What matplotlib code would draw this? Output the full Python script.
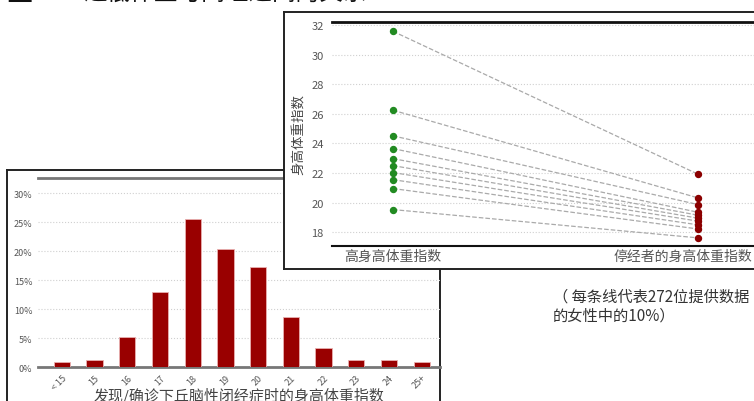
import matplotlib
matplotlib.use("Agg")
import matplotlib.pyplot as plt
import matplotlib.transforms as mtransforms
from matplotlib.ticker import PercentFormatter

plt.rcParams['font.family'] = ['Noto Sans CJK SC', 'DejaVu Sans']

# histogram: BMI at diagnosis
bmi_labels = ['< 15', '15', '16', '17', '18', '19', '20', '21', '22', '23', '24', '25+']
bmi_share = [0.8, 1.15, 5.1, 13.0, 25.6, 20.3, 17.3, 8.7, 3.2, 1.15, 1.15, 0.85]

# slope chart: high BMI vs BMI at amenorrhea (deciles)
slope_cats = ['高身高体重指数', '停经者的身高体重指数']
bmi_high = [31.57, 26.24, 24.51, 23.65, 22.97, 22.5, 22.03, 21.55, 20.95, 19.53]
bmi_stop = [21.92, 20.32, 19.87, 19.35, 19.15, 18.95, 18.75, 18.5, 18.22, 17.62]

W, H = 754, 402
fig = plt.figure(figsize=(W / 100, H / 100), dpi=100)


def box(l, t, r, b):
    # pixel box (from top-left) -> figure fraction rect
    return [l / W, 1 - b / H, (r - l) / W, (b - t) / H]


def panel(rect, z):
    p = fig.add_axes(rect, zorder=z)
    p.set_xticks([])
    p.set_yticks([])
    p.set_facecolor('white')
    for s in p.spines.values():
        s.set_linewidth(1.4)
        s.set_color('#222222')
    return p


# cut-off title at the very top
fig.text(6 / W, 1 - 8 / H, '三', fontsize=19, color='#111111', va='bottom', ha='left')
fig.text(83 / W, 1 - 6 / H, '过低体重与闭经之间的关系', fontsize=17, color='#111111',
         va='bottom', ha='left')

#region histogram panel
panel(box(7, 171, 440, 430), 0)
ax1 = fig.add_axes(box(38, 179, 440, 368), zorder=1)
ax1.set_facecolor('none')
xs = list(range(len(bmi_labels)))
ax1.bar(xs, [v / 100 for v in bmi_share], width=0.5, color='#990000',
        edgecolor='#e8b0b0', linewidth=0.6, zorder=3)
ax1.set_xlim(-0.73, 11.56)
ax1.set_ylim(0, 0.326)
ax1.set_yticks([0, 0.05, 0.10, 0.15, 0.20, 0.25, 0.30])
ax1.yaxis.set_major_formatter(PercentFormatter(1.0, decimals=0))
ax1.set_xticks(xs)
ax1.set_xticklabels(bmi_labels, rotation=45, ha='right', rotation_mode='anchor')
ax1.tick_params(length=0, labelsize=6.5, labelcolor='#555555', pad=4)
ax1.grid(axis='y', linestyle=':', color='#d0d0d0', linewidth=0.8, zorder=0)
for s in ['left', 'right']:
    ax1.spines[s].set_visible(False)
ax1.spines['top'].set_color('#777777')
ax1.spines['top'].set_linewidth(2)
ax1.spines['bottom'].set_color('#777777')
ax1.spines['bottom'].set_linewidth(2)
ax1.set_xlabel('发现/确诊下丘脑性闭经症时的身高体重指数', fontsize=10.8, color='#444444', labelpad=-3)
#endregion

#region slope panel
panel(box(284, 13, 780, 270), 2)
ax2 = fig.add_axes(box(332, 22.7, 759, 247), zorder=3)
ax2.set_facecolor('none')
for lo, hi in zip(bmi_high, bmi_stop):
    ax2.plot([0, 1], [lo, hi], linestyle='--', color='#aaaaaa', linewidth=0.9, zorder=2)
ax2.plot([0] * len(bmi_high), bmi_high, 'o', color='#228b22', markersize=4.3, zorder=4)
ax2.plot([1] * len(bmi_stop), bmi_stop, 'o', color='#8b0000', markersize=4.3, zorder=4)
ax2.set_xlim(-0.2, 1.2)
ax2.set_ylim(17.07, 32.22)
ax2.set_yticks(range(18, 33, 2))
ax2.set_xticks([0, 1])
ax2.set_xticklabels(slope_cats, fontsize=10, color='#555555')
ax2.tick_params(axis='y', length=0, labelsize=8, labelcolor='#555555', pad=6)
ax2.tick_params(axis='x', length=0, pad=2)
shift = mtransforms.ScaledTranslation(-15 / 100, 0, fig.dpi_scale_trans)
lbl = ax2.get_xticklabels()[1]
lbl.set_transform(lbl.get_transform() + shift)
ax2.grid(axis='y', linestyle=':', color='#d0d0d0', linewidth=0.8, zorder=0)
for s in ['left', 'right']:
    ax2.spines[s].set_visible(False)
ax2.spines['top'].set_color('#111111')
ax2.spines['top'].set_linewidth(2)
ax2.spines['bottom'].set_color('#111111')
ax2.spines['bottom'].set_linewidth(1.5)
ax2.set_ylabel('身高体重指数', fontsize=9.7, color='#444444', labelpad=4)
#endregion

fig.text(553 / W, 1 - 289 / H, '（ 每条线代表272位提供数据\n的女性中的10%）', fontsize=11,
         color='#333333', va='top', ha='left', linespacing=1.15)

fig.savefig('out.png', dpi=100)
